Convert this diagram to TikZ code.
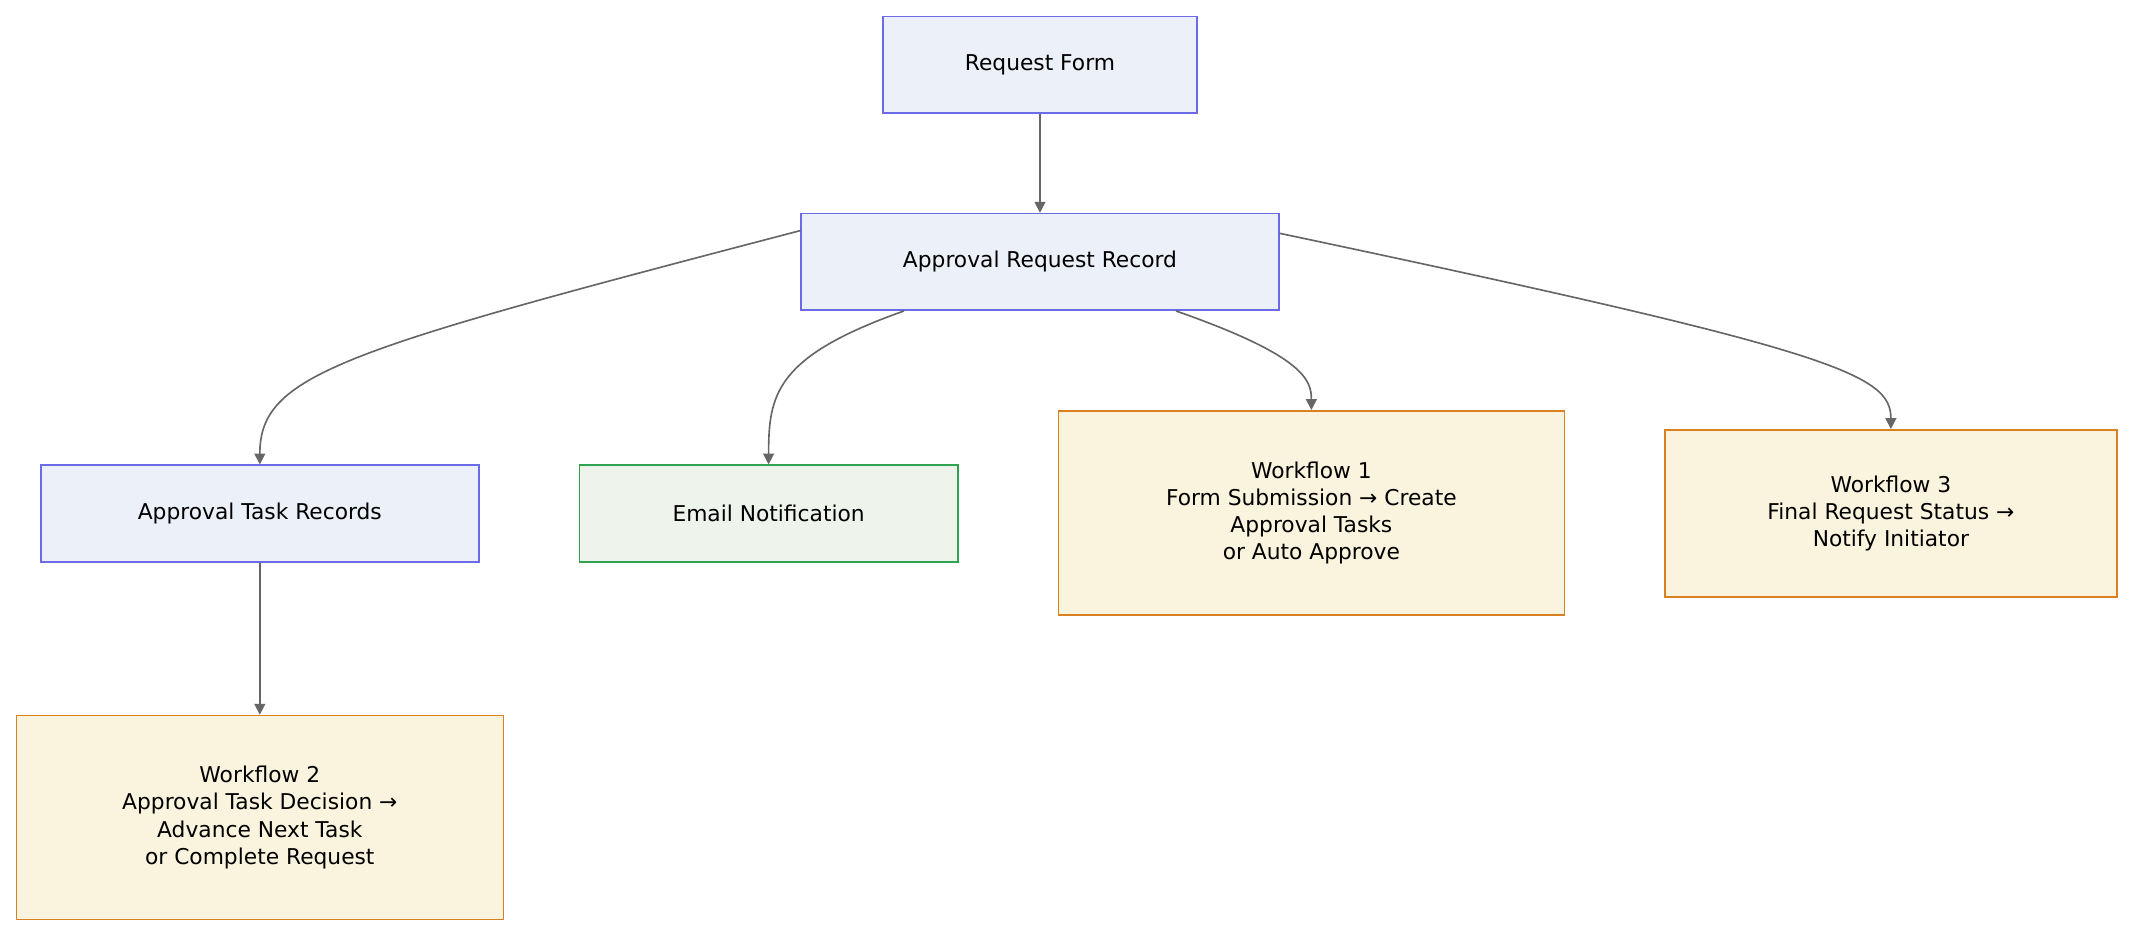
\documentclass[tikz,border=0pt]{standalone}
\usepackage{fontspec}
\setmainfont{DejaVu Sans}
\usetikzlibrary{arrows.meta}
\definecolor{bluefill}{HTML}{ECF0F8}
\definecolor{blueline}{HTML}{6B6BE8}
\definecolor{greenfill}{HTML}{EEF3EC}
\definecolor{greenline}{HTML}{2EA450}
\definecolor{orangefill}{HTML}{FAF3DD}
\definecolor{orangeline}{HTML}{D98020}
\definecolor{edgegray}{HTML}{666666}
\begin{document}
\begin{tikzpicture}[x=1pt,y=1pt,yscale=-1,
  box/.style={draw, line width=1.2pt, align=center, inner sep=0pt,
    font=\fontsize{16}{20}\selectfont},
  bluebox/.style={box, fill=bluefill, draw=blueline},
  greenbox/.style={box, fill=greenfill, draw=greenline},
  orangebox/.style={box, fill=orangefill, draw=orangeline},
  link/.style={draw=edgegray, line width=1.2pt, -{Triangle[length=8pt,width=8pt]}, edgegray}]
\useasboundingbox (0,0) rectangle (1568,688);

% nodes
\node[bluebox, minimum width=231pt, minimum height=71pt] (form) at (764.5,47.5) {Request Form};
\node[bluebox, minimum width=351pt, minimum height=71pt] (record) at (764.5,192.5) {Approval Request Record};
\node[bluebox, minimum width=322pt, minimum height=71pt] (tasks) at (191,377.5) {Approval Task Records};
\node[greenbox, minimum width=278pt, minimum height=71pt] (email) at (565,377.5) {Email Notification};
\node[orangebox, minimum width=372pt, minimum height=150pt] (wfone) at (964,377) {Workflow 1\\Form Submission → Create\\Approval Tasks\\or Auto Approve};
\node[orangebox, minimum width=332pt, minimum height=123pt] (wfthree) at (1390,377.5) {Workflow 3\\Final Request Status →\\Notify Initiator};
\node[orangebox, minimum width=358pt, minimum height=150pt] (wftwo) at (191,601) {Workflow 2\\Approval Task Decision →\\Advance Next Task\\or Complete Request};

% connectors
\draw[link] (form) -- (record);
\draw[link] ([yshift=-23pt]record.west) .. controls (250,258) and (191,275) .. (tasks.north);
\draw[link] ([xshift=-100pt]record.south) .. controls (570,262) and (565,290) .. (email.north);
\draw[link] ([xshift=100pt]record.south) .. controls (960,262) and (964,280) .. (wfone.north);
\draw[link] ([yshift=-21pt]record.east) .. controls (1350,258) and (1390,275) .. (wfthree.north);
\draw[link] (tasks) -- (wftwo);
\end{tikzpicture}
\end{document}
